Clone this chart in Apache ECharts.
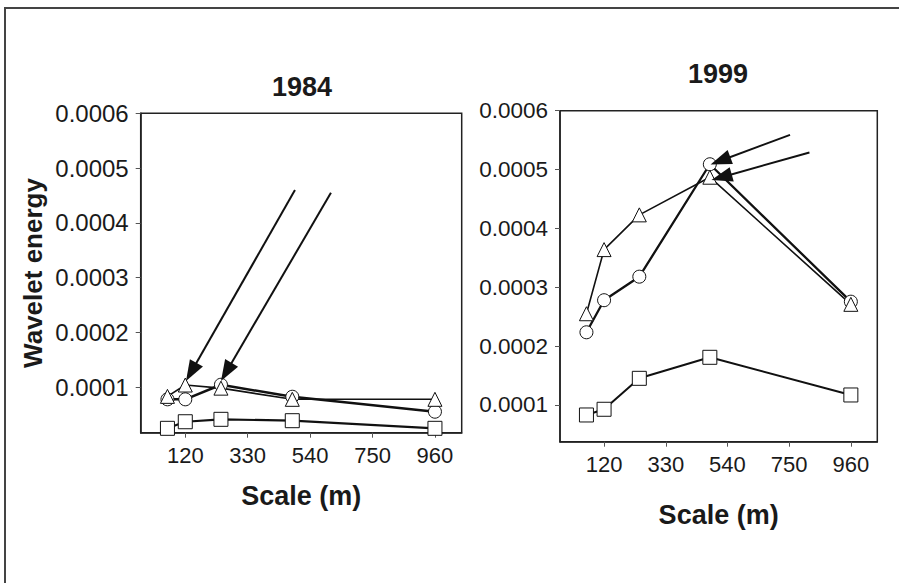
<!DOCTYPE html>
<html>
<head>
<meta charset="utf-8">
<script src="https://cdn.jsdelivr.net/npm/echarts@6/dist/echarts.min.js"></script>
<style>
html,body{margin:0;padding:0;background:#fff;}
#chart{width:899px;height:583px;}
</style>
</head>
<body>
<div id="chart"></div>
<script>
// ---- data ----
const scales = [60, 120, 240, 480, 960];
const xTicks = [120, 330, 540, 750, 960];
const yTicks = [0.0001, 0.0002, 0.0003, 0.0004, 0.0005, 0.0006];

const e1984Square   = [0.0000252, 0.0000372, 0.0000416, 0.0000391, 0.0000252];
const e1984Circle   = [0.0000781, 0.0000781, 0.0001047, 0.0000828, 0.0000555];
const e1984Triangle = [0.0000835, 0.0001042, 0.0000985, 0.0000781, 0.0000781];

const e1999Square   = [0.0000830, 0.0000927, 0.0001453, 0.0001810, 0.0001170];
const e1999Circle   = [0.0002235, 0.0002780, 0.0003180, 0.0005090, 0.0002755];
const e1999Triangle = [0.0002550, 0.0003640, 0.0004230, 0.0004870, 0.0002710];

// annotation arrows [start(x,y), end(x,y)] in data units
const arrows1984 = [[[489, 0.000460], [140, 0.000128]], [[610, 0.000455], [258, 0.000128]]];
const arrows1999 = [[[753, 0.000559], [516, 0.000515]], [[819, 0.000529], [520, 0.000487]]];

const panelTitles = ['1984', '1999'];

// ---- chart ----
const FONT = '"Liberation Sans", Arial, sans-serif';
const INK = '#1a1a1a';
const pairs = vals => scales.map((s, i) => [s, vals[i]]);

function xAxisFor(idx, gap) {
  return {
    type: 'value', gridIndex: idx, min: -30, max: 1050,
    name: 'Scale (m)', nameLocation: 'middle', nameGap: gap,
    nameTextStyle: { fontFamily: FONT, fontWeight: 'bold', fontSize: 27, color: INK },
    axisLine: { show: true, onZero: false, lineStyle: { color: '#222', width: 1.5 } },
    axisTick: { show: true, length: 5, customValues: xTicks, lineStyle: { color: '#555' } },
    axisLabel: { customValues: xTicks, fontFamily: FONT, fontSize: 22, color: INK, margin: 12 },
    splitLine: { show: false }
  };
}
function yAxisFor(idx, min, named, fs) {
  return {
    type: 'value', gridIndex: idx, min: min, max: 0.0006,
    name: named ? 'Wavelet energy' : '', nameLocation: 'middle', nameGap: 95, nameRotate: 90,
    nameTextStyle: { fontFamily: FONT, fontWeight: 'bold', fontSize: 26, color: INK },
    axisLine: { show: true, onZero: false, lineStyle: { color: '#222', width: 1.5 } },
    axisTick: { show: true, length: 5, customValues: yTicks, lineStyle: { color: '#555' } },
    axisLabel: { customValues: yTicks, fontFamily: FONT, fontSize: fs, color: INK, margin: 12,
      formatter: v => v.toFixed(4) },
    splitLine: { show: false }
  };
}
function lineSeries(idx, vals, symbol, size, width, arrows) {
  const s = {
    type: 'line', xAxisIndex: idx, yAxisIndex: idx, data: pairs(vals),
    symbol: symbol, symbolSize: size, showAllSymbol: true,
    itemStyle: { color: '#fff', borderColor: '#111', borderWidth: 1 },
    lineStyle: { color: '#111', width: width },
    emphasis: { disabled: true }, silent: true, z: 3
  };
  if (arrows) {
    s.markLine = {
      silent: true, symbol: ['none', 'triangle'], symbolSize: [1, 20],
      label: { show: false }, emphasis: { disabled: true },
      itemStyle: { color: '#111' },
      lineStyle: { color: '#111', width: 2, type: 'solid' },
      data: arrows.map(a => [{ coord: a[0] }, { coord: a[1], symbolSize: [15, 21] }])
    };
  }
  return s;
}

const chart = echarts.init(document.getElementById('chart'), null, { renderer: 'svg' });
chart.setOption({
  animation: false,
  backgroundColor: '#fff',
  grid: [
    { left: 140.7, top: 113.3, width: 321, height: 319.4, show: true, borderColor: '#222', borderWidth: 1.5, backgroundColor: 'transparent' },
    { left: 560, top: 110.7, width: 317.3, height: 331, show: true, borderColor: '#222', borderWidth: 1.5, backgroundColor: 'transparent' }
  ],
  xAxis: [xAxisFor(0, 50), xAxisFor(1, 60)],
  yAxis: [yAxisFor(0, 0.0000172, true, 24), yAxisFor(1, 0.0000376, false, 22.5)],
  graphic: [
    { type: 'polyline', shape: { points: [[5, 583], [5, 8], [899, 8]] }, style: { stroke: '#444', lineWidth: 2, fill: null }, silent: true },
    { type: 'text', x: 302, y: 87, style: { text: panelTitles[0], font: 'bold 27px ' + FONT, fill: INK, textAlign: 'center', textVerticalAlign: 'middle' } },
    { type: 'text', x: 718, y: 74, style: { text: panelTitles[1], font: 'bold 27px ' + FONT, fill: INK, textAlign: 'center', textVerticalAlign: 'middle' } }
  ],
  series: [
    lineSeries(0, e1984Square, 'rect', 14, 2.2),
    lineSeries(0, e1984Circle, 'circle', 13, 2.5),
    lineSeries(0, e1984Triangle, 'triangle', 14, 1.6, arrows1984),
    lineSeries(1, e1999Square, 'rect', 14, 2),
    lineSeries(1, e1999Circle, 'circle', 13, 2.3),
    lineSeries(1, e1999Triangle, 'triangle', 14, 1.6, arrows1999)
  ]
});
</script>
</body>
</html>
